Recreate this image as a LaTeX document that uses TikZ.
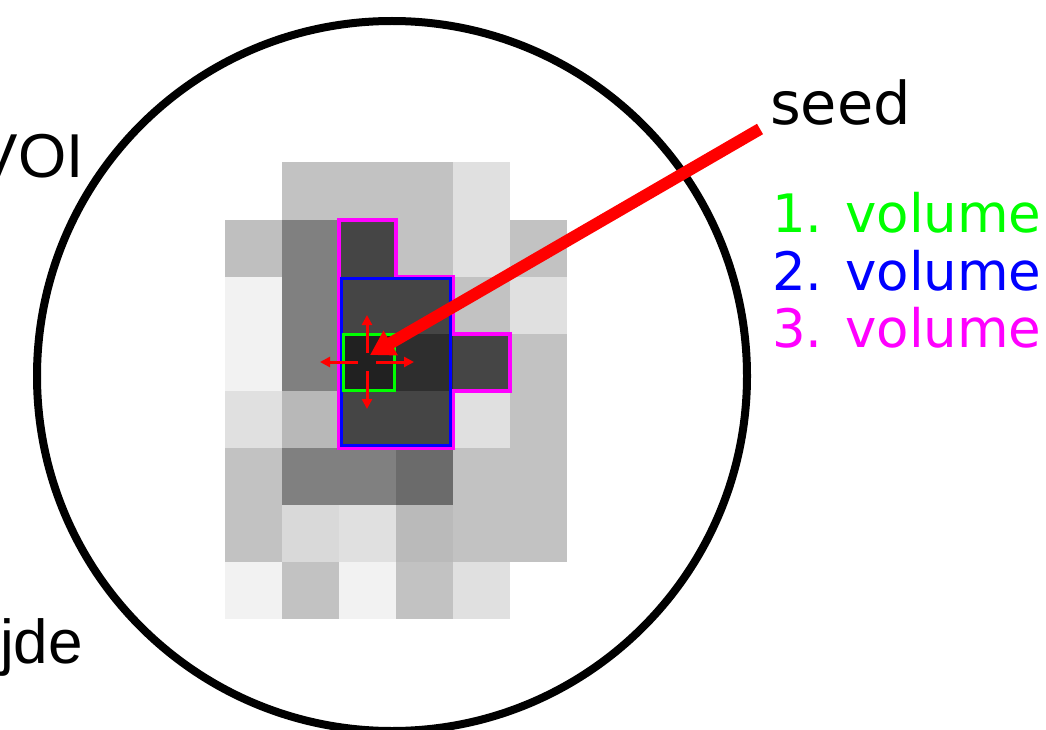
\documentclass[tikz,border=0pt]{standalone}
\usepackage{fontspec}
\usepackage{tikz}
\usetikzlibrary{arrows.meta}
\newfontfamily\dejavu{DejaVu Sans}
\newfontfamily\arialsans{Liberation Sans}
\definecolor{volgreen}{RGB}{0,255,0}
\definecolor{volblue}{RGB}{0,0,255}
\definecolor{volmag}{RGB}{255,0,255}
\definecolor{seedred}{RGB}{255,0,0}

\begin{document}
\begin{tikzpicture}[x=1pt, y=-1pt]
\tikzstyle{lbl}=[inner sep=0pt, anchor=base west]
\tikzstyle{vol}=[lbl, font=\dejavu\fontsize{53pt}{57pt}\selectfont]
\tikzstyle{growarrow}=[seedred, line width=3pt, -{Triangle[length=10pt,width=10pt]}]
\useasboundingbox (0,0) rectangle (1046,730);
% voxels (percent black per cell, 0 = no voxel)
\foreach \vals [count=\r from 0] in {{0,24,24,24,12,0},{25,50,73,24,12,24},
    {5,50,73,73,24,12},{5,50,87,82,73,24},{12,28,73,73,12,24},
    {24,50,50,58,24,24},{24,15,12,27,24,24},{5,24,5,24,12,0}}{
  \foreach \g [count=\c from 0] in \vals{
    \ifnum\g>0 \fill[black!\g] (224.5+57*\c,162.5+57*\r) rectangle ++(57.4,57.4);\fi
  }
}
% region after each step
\draw[volmag, line width=4pt] (338.5,219.5) -- (395.5,219.5) -- (395.5,276.5)
  -- (452.5,276.5) -- (452.5,333.5) -- (509.5,333.5) -- (509.5,390.5)
  -- (452.5,390.5) -- (452.5,447.5) -- (338.5,447.5) -- cycle;
\draw[volblue, line width=3pt] (341.5,278.5) rectangle (450.5,445);
\draw[volgreen, line width=3pt] (343.5,334) rectangle (394.5,390);
\coordinate (seed) at (367,362);
\foreach \a in {0,90,180,270}
  \draw[growarrow] ([shift={(\a:9)}]seed) -- ([shift={(\a:47)}]seed);
\node[draw, circle, line width=8pt, minimum size=710pt, inner sep=0pt] (roi) at (392,376) {};
\node[lbl, anchor=base east, font=\arialsans\fontsize{62pt}{62pt}\selectfont] (voi) at (84,178) {VOI};
\node[lbl, font=\arialsans\fontsize{62pt}{62pt}\selectfont] (edge) at (0,663) {jde};
\node[lbl, font=\dejavu\fontsize{59pt}{59pt}\selectfont] (seedlbl) at (770,125) {seed};
\node[vol, text=volgreen] (v1) at (772,233) {1. volume};
\node[vol, text=volblue] (v2) at (772,290) {2. volume};
\node[vol, text=volmag] (v3) at (772,347) {3. volume};
\coordinate (tail) at (760,129);
\coordinate (tip) at (370,355);
\draw[seedred, line width=12pt, -{Triangle[length=24pt,width=27pt]}] (tail) -- (tip);
\end{tikzpicture}
\end{document}
